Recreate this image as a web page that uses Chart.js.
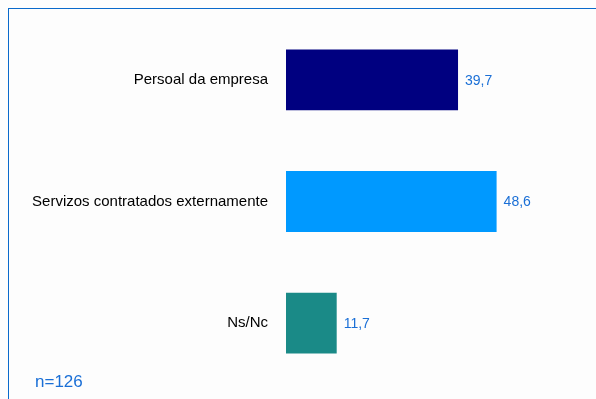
<!DOCTYPE html>
<html>
<head>
<meta charset="utf-8">
<script src="https://cdn.jsdelivr.net/npm/chart.js@4.4.0/dist/chart.umd.min.js"></script>
<style>
  body { margin: 0; background: #fdfdfd; }
  #wrap { position: relative; width: 596px; height: 399px; }
  #frame { position: absolute; left: 8px; top: 8px; right: -2px; bottom: -2px; border-top: 1px solid #0a6acb; border-left: 1px solid #0a6acb; }
  #note { position: absolute; left: 35px; top: 372px; font: 17px "Liberation Sans", Arial, sans-serif; color: #1a6fd6; }
  canvas { display: block; }
</style>
</head>
<body>
<div id="wrap">
  <div id="frame"></div>
  <canvas id="chart" width="596" height="399"></canvas>
  <div id="note">n=126</div>
</div>
<script>
const categories = ['Persoal da empresa', 'Servizos contratados externamente', 'Ns/Nc'];
const values = [39.7, 48.6, 11.7];
const barColors = ['#000080', '#0099ff', '#1a8a87'];

// etiquetas de valor a dereita de cada barra
const valueLabels = {
  id: 'valueLabels',
  afterDatasetsDraw(chart) {
    const ctx = chart.ctx;
    const meta = chart.getDatasetMeta(0);
    ctx.save();
    ctx.font = '14px "Liberation Sans", Arial, sans-serif';
    ctx.fillStyle = '#1a6fd6';
    ctx.textBaseline = 'middle';
    meta.data.forEach((bar, i) => {
      ctx.fillText(values[i].toFixed(1).replace('.', ','), bar.x + 7, bar.y + 1);
    });
    ctx.restore();
  }
};

new Chart(document.getElementById('chart'), {
  type: 'bar',
  data: {
    labels: categories,
    datasets: [{
      data: values,
      backgroundColor: barColors,
      borderWidth: 0,
      barPercentage: 0.5,
      categoryPercentage: 1
    }]
  },
  options: {
    indexAxis: 'y',
    responsive: false,
    animation: false,
    layout: { padding: { left: 0, right: 50, top: 19, bottom: 15 } },
    plugins: { legend: { display: false }, tooltip: { enabled: false } },
    scales: {
      x: { display: false, min: 0, max: 60 },
      y: {
        grid: { display: false, drawTicks: true, tickLength: 18 },
        border: { display: false },
        ticks: {
          color: '#000',
          padding: 0,
          font: { family: '"Liberation Sans", Arial, sans-serif', size: 15 }
        },
        afterFit(scale) { scale.width = 286; }
      }
    }
  },
  plugins: [valueLabels]
});
</script>
</body>
</html>
